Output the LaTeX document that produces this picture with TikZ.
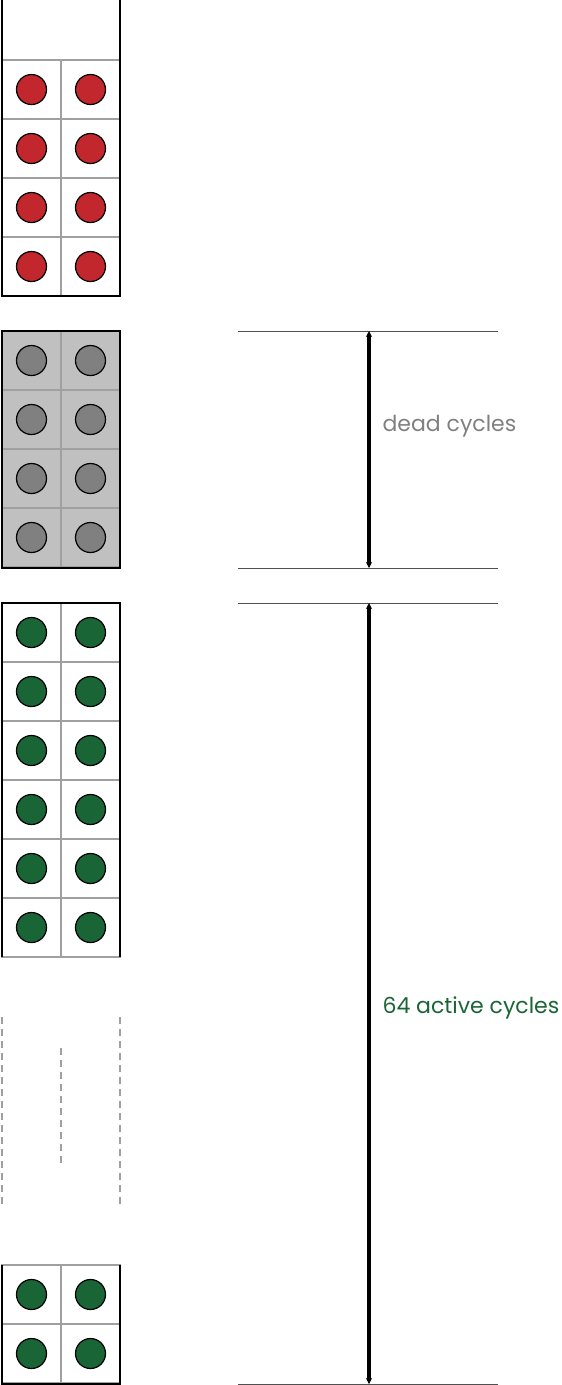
\documentclass[tikz,border=0pt]{standalone}
\usepackage{fontspec}
\setmainfont{Poppins}
\usetikzlibrary{arrows.meta}

\definecolor{chipred}{HTML}{C1272D}
\definecolor{deadbg}{HTML}{C0C0C0}
\definecolor{deadgray}{HTML}{808080}
\definecolor{livegreen}{HTML}{196536}
\definecolor{cellgray}{HTML}{A0A0A0}
\definecolor{dimgray}{HTML}{505050}

\begin{document}
\begin{tikzpicture}[x=1pt,y=-1pt,
                    cell/.style={draw=cellgray,line width=1.3pt},
                    dot/.style={circle,draw=black,line width=1.2pt,minimum size=30pt,inner sep=0pt},
                    wall/.style={draw=black,line width=2.5pt},
                    gap/.style={draw=cellgray,line width=1.5pt,dash pattern=on 7pt off 5pt},
                    dim/.style={draw=dimgray,line width=0.9pt},
                    span/.style={{Stealth[length=6pt,width=6pt]}-{Stealth[length=6pt,width=6pt]},line width=3.2pt},
                    lbl/.style={anchor=base west,font=\fontsize{22}{26}\selectfont}]
  \useasboundingbox (0,0) rectangle (562,1385);

  % blocks of cycles: top edge / rows / background / dot colour
  \foreach \ya/\n/\bg/\dc [count=\b] in {60/4/white/chipred, 331/4/deadbg/deadgray,
                                         603/6/white/livegreen, 1265/2/white/livegreen} {
    \fill[\bg] (2,\ya) rectangle ++(118,59*\n);
    \foreach \r in {1,...,\n} {
      \foreach \c in {0,1} {
        \draw[cell] (2+59*\c,\ya+59*\r-59) rectangle ++(59,59);
        \node[dot,fill=\dc] (b\b-\r-\c) at (31.5+59*\c,\ya+59*\r-29.5) {};
      }
    }
  }

  % outer walls
  \draw[wall] (2,0) -- (2,296) -- (120,296) -- (120,0);
  \draw[wall] (2,331) rectangle (120,568);
  \draw[wall] (2,957) -- (2,603) -- (120,603) -- (120,957);
  \draw[wall] (2,1265) -- (2,1384) -- (120,1384) -- (120,1265);

  % skipped rows
  \draw[gap] (2,1017) -- (2,1207);
  \draw[gap] (120,1017) -- (120,1207);
  \draw[gap] (61,1048) -- (61,1167);

  % cycle counts
  \coordinate (deadtop) at (369,331);
  \coordinate (deadbot) at (369,568);
  \coordinate (livetop) at (369,603);
  \coordinate (livebot) at (369,1384);
  \foreach \p in {deadtop,deadbot,livetop,livebot}
    \draw[dim] ([xshift=-131pt]\p) -- ([xshift=129pt]\p);
  \draw[span] (deadtop) -- (deadbot);
  \draw[span] (livetop) -- (livebot);

  \node[lbl,text=deadgray]  (deadlbl) at (379,431)  {dead cycles};
  \node[lbl,text=livegreen] (livelbl) at (379,1013) {64 active cycles};
\end{tikzpicture}
\end{document}
